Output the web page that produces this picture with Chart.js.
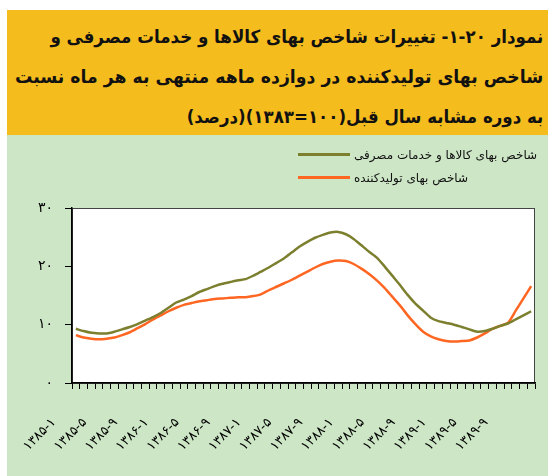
<!DOCTYPE html>
<html>
<head>
<meta charset="utf-8">
<script src="https://cdn.jsdelivr.net/npm/chart.js@4.4.1/dist/chart.umd.min.js"></script>
<style>
  body { margin: 0; width: 548px; height: 476px; background: #fff; position: relative; overflow: hidden;
         font-family: "DejaVu Sans", sans-serif; }
  #head { position: absolute; left: 7px; top: 10px; width: 541px; height: 125px; background: #F5BC1E; overflow: hidden; }
  #head .ln { direction: rtl; font-weight: bold; font-size: 18px; line-height: 40px; height: 40px;
              padding-right: 5px; color: #111; white-space: nowrap;
              transform: scaleX(0.925); transform-origin: right center; }
  #head .first { margin-top: 7px; }
  #head .wide { transform: scaleX(0.96); }
  #panel { position: absolute; left: 7px; top: 135px; width: 541px; height: 341px; background: #CDE6C6; }
  #legend { position: absolute; left: 291px; top: 8px; font-size: 12px; color: #111; }
  #legend .row { height: 23px; display: flex; align-items: center; }
  #legend .sw { width: 52px; height: 3px; margin-right: 4px; }
  #legend .tx { direction: rtl; white-space: nowrap; }
  canvas { position: absolute; left: 0; top: 0; }
</style>
</head>
<body>
<div id="head">
  <div class="ln first">نمودار ۲۰-۱- تغییرات شاخص بهای کالاها و خدمات مصرفی و</div>
  <div class="ln wide">شاخص بهای تولیدکننده در دوازده ماهه منتهی به هر ماه نسبت</div>
  <div class="ln">به دوره مشابه سال قبل(۱۰۰=۱۳۸۳)(درصد)</div>
</div>
<div id="panel">
  <canvas id="chart" width="541" height="341"></canvas>
  <div id="legend"></div>
</div>
<script>
// --- داده‌ها ---
const years = [1385, 1386, 1387, 1388, 1389];
const monthsPerYear = 12;

// شاخص بهای کالاها و خدمات مصرفی
const cpiValues = [
  9.3, 8.9, 8.6, 8.5, 8.5, 8.8, 9.2, 9.6, 10.1, 10.7, 11.3, 12.0,
  12.9, 13.8, 14.3, 14.9, 15.6, 16.1, 16.6, 17.0, 17.3, 17.6, 17.8, 18.4,
  19.1, 19.8, 20.6, 21.4, 22.4, 23.4, 24.2, 24.9, 25.4, 25.8, 25.9, 25.5,
  24.7, 23.6, 22.5, 21.5, 20.0, 18.4, 16.8, 15.1, 13.6, 12.4, 11.2, 10.6,
  10.3, 10.0, 9.6, 9.2, 8.8, 8.9, 9.3, 9.8, 10.2, 10.9, 11.6, 12.3
];
// شاخص بهای تولیدکننده
const ppiValues = [
  8.2, 7.8, 7.6, 7.5, 7.6, 7.8, 8.2, 8.7, 9.4, 10.1, 10.9, 11.6,
  12.3, 12.9, 13.4, 13.7, 14.0, 14.2, 14.4, 14.5, 14.6, 14.7, 14.7, 14.9,
  15.2, 15.9, 16.5, 17.1, 17.7, 18.4, 19.1, 19.8, 20.4, 20.8, 21.0, 20.9,
  20.4, 19.6, 18.7, 17.6, 16.3, 14.8, 13.3, 11.6, 10.1, 8.8, 8.0, 7.5,
  7.2, 7.1, 7.2, 7.3, 7.8, 8.5, 9.3, 9.8, 10.3, 12.4, 14.5, 16.6
];

const seriesNames = ['شاخص بهای کالاها و خدمات مصرفی', 'شاخص بهای تولیدکننده'];
const seriesColors = ['#7B7F2E', '#FF6622'];
const yTicks = [0, 10, 20, 30];

// --- برچسب‌ها ---
const faDigits = '۰۱۲۳۴۵۶۷۸۹';
const toFa = (n) => String(n).replace(/[0-9]/g, d => faDigits[d]);

const categories = [];
years.forEach(y => {
  for (let m = 1; m <= monthsPerYear; m++) categories.push(toFa(y) + '-' + toFa(m));
});

// --- راهنما ---
const legendEl = document.getElementById('legend');
seriesNames.forEach((name, i) => {
  const row = document.createElement('div');
  row.className = 'row';
  row.innerHTML = '<span class="sw" style="background:' + seriesColors[i] + '"></span><span class="tx">' + name + '</span>';
  legendEl.appendChild(row);
});

// پس‌زمینه سفید و قاب ناحیه نمودار
const plotFrame = {
  id: 'plotFrame',
  beforeDraw(chart) {
    const { ctx, chartArea: a } = chart;
    ctx.save();
    ctx.fillStyle = '#fff';
    ctx.fillRect(a.left, a.top, a.right - a.left, a.bottom - a.top);
    ctx.strokeStyle = '#444';
    ctx.lineWidth = 1;
    ctx.strokeRect(a.left + 0.5, a.top + 0.5, a.right - a.left - 1, a.bottom - a.top);
    ctx.restore();
  }
};

new Chart(document.getElementById('chart'), {
  type: 'line',
  data: {
    labels: categories,
    datasets: [
      { label: seriesNames[0], data: cpiValues, borderColor: seriesColors[0], borderWidth: 2.5,
        pointRadius: 0, tension: 0.2, fill: false },
      { label: seriesNames[1], data: ppiValues, borderColor: seriesColors[1], borderWidth: 2.5,
        pointRadius: 0, tension: 0.2, fill: false }
    ]
  },
  options: {
    responsive: false,
    animation: false,
    devicePixelRatio: 1,
    layout: { padding: { top: 73, right: 13, left: 0, bottom: 0 } },
    plugins: { legend: { display: false }, tooltip: { enabled: false } },
    scales: {
      x: {
        type: 'category',
        offset: true,
        grid: { offset: true, drawOnChartArea: false, tickLength: 6, color: '#000' },
        border: { color: '#000', width: 1.5 },
        ticks: {
          autoSkip: false, minRotation: 45, maxRotation: 45,
          labelOffset: -22, padding: 26,
          color: '#000', font: { family: 'DejaVu Sans', size: 13 },
          callback: (v, i) => (i % 4 === 0 ? categories[i] : '')
        },
        afterFit: (s) => { s.height = 93; s.paddingLeft = 0; s.paddingRight = 0; }
      },
      y: {
        min: 0, max: 30,
        afterBuildTicks: (s) => { s.ticks = yTicks.map(v => ({ value: v })); },
        grid: { drawOnChartArea: false, tickLength: 7, color: '#000' },
        border: { color: '#000', width: 1.5 },
        ticks: { color: '#000', padding: 12, font: { family: 'DejaVu Sans', size: 14 },
                 callback: (v) => toFa(v) },
        afterFit: (s) => { s.width = 65; }
      }
    }
  },
  plugins: [plotFrame]
});
</script>
</body>
</html>
